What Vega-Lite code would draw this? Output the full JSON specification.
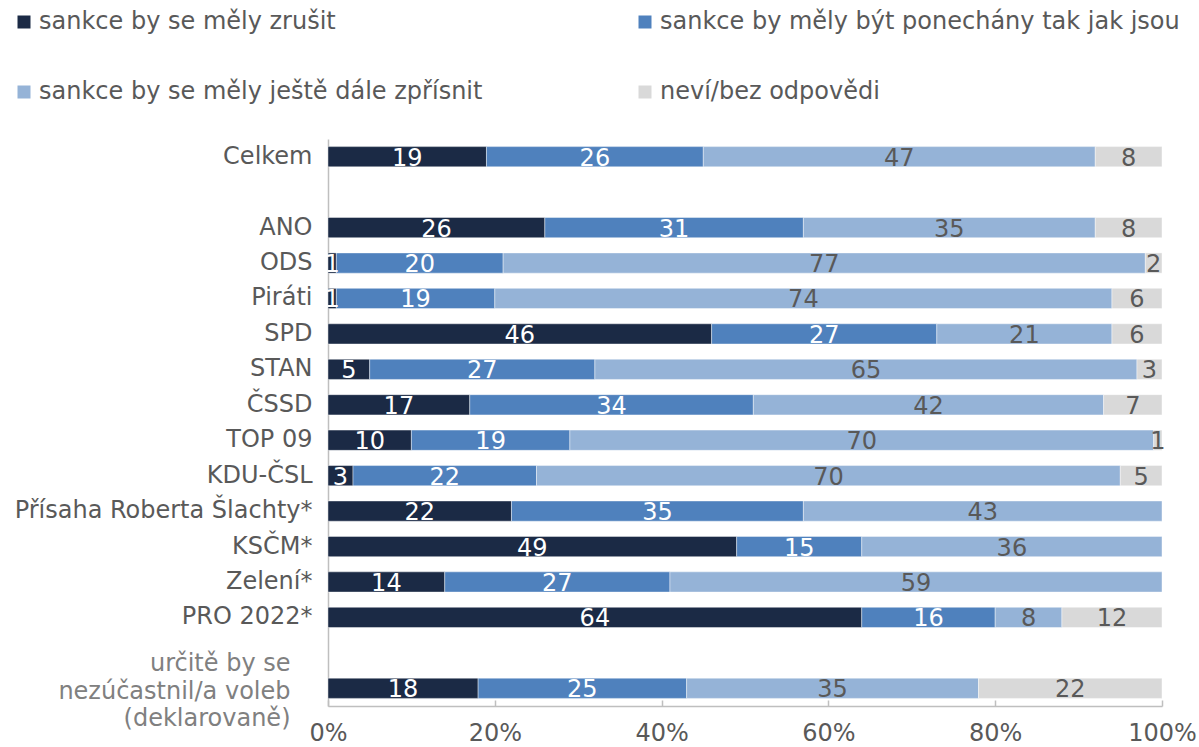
{
  "$schema": "https://vega.github.io/schema/vega-lite/v6.json",
  "width": 834,
  "height": 567,
  "autosize": {"type": "none"},
  "padding": {"left": 328, "top": 139, "right": 37, "bottom": 41},
  "config": {"view": {"stroke": null}, "font": "DejaVu Sans"},
  "data": {
    "values": [
      {"skupina": "Celkem", "odpoved": "sankce by se měly zrušit", "poradi": 1, "hodnota": 19},
      {"skupina": "Celkem", "odpoved": "sankce by měly být ponechány tak jak jsou", "poradi": 2, "hodnota": 26},
      {"skupina": "Celkem", "odpoved": "sankce by se měly ještě dále zpřísnit", "poradi": 3, "hodnota": 47},
      {"skupina": "Celkem", "odpoved": "neví/bez odpovědi", "poradi": 4, "hodnota": 8},
      {"skupina": "ANO", "odpoved": "sankce by se měly zrušit", "poradi": 1, "hodnota": 26},
      {"skupina": "ANO", "odpoved": "sankce by měly být ponechány tak jak jsou", "poradi": 2, "hodnota": 31},
      {"skupina": "ANO", "odpoved": "sankce by se měly ještě dále zpřísnit", "poradi": 3, "hodnota": 35},
      {"skupina": "ANO", "odpoved": "neví/bez odpovědi", "poradi": 4, "hodnota": 8},
      {"skupina": "ODS", "odpoved": "sankce by se měly zrušit", "poradi": 1, "hodnota": 1},
      {"skupina": "ODS", "odpoved": "sankce by měly být ponechány tak jak jsou", "poradi": 2, "hodnota": 20},
      {"skupina": "ODS", "odpoved": "sankce by se měly ještě dále zpřísnit", "poradi": 3, "hodnota": 77},
      {"skupina": "ODS", "odpoved": "neví/bez odpovědi", "poradi": 4, "hodnota": 2},
      {"skupina": "Piráti", "odpoved": "sankce by se měly zrušit", "poradi": 1, "hodnota": 1},
      {"skupina": "Piráti", "odpoved": "sankce by měly být ponechány tak jak jsou", "poradi": 2, "hodnota": 19},
      {"skupina": "Piráti", "odpoved": "sankce by se měly ještě dále zpřísnit", "poradi": 3, "hodnota": 74},
      {"skupina": "Piráti", "odpoved": "neví/bez odpovědi", "poradi": 4, "hodnota": 6},
      {"skupina": "SPD", "odpoved": "sankce by se měly zrušit", "poradi": 1, "hodnota": 46},
      {"skupina": "SPD", "odpoved": "sankce by měly být ponechány tak jak jsou", "poradi": 2, "hodnota": 27},
      {"skupina": "SPD", "odpoved": "sankce by se měly ještě dále zpřísnit", "poradi": 3, "hodnota": 21},
      {"skupina": "SPD", "odpoved": "neví/bez odpovědi", "poradi": 4, "hodnota": 6},
      {"skupina": "STAN", "odpoved": "sankce by se měly zrušit", "poradi": 1, "hodnota": 5},
      {"skupina": "STAN", "odpoved": "sankce by měly být ponechány tak jak jsou", "poradi": 2, "hodnota": 27},
      {"skupina": "STAN", "odpoved": "sankce by se měly ještě dále zpřísnit", "poradi": 3, "hodnota": 65},
      {"skupina": "STAN", "odpoved": "neví/bez odpovědi", "poradi": 4, "hodnota": 3},
      {"skupina": "ČSSD", "odpoved": "sankce by se měly zrušit", "poradi": 1, "hodnota": 17},
      {"skupina": "ČSSD", "odpoved": "sankce by měly být ponechány tak jak jsou", "poradi": 2, "hodnota": 34},
      {"skupina": "ČSSD", "odpoved": "sankce by se měly ještě dále zpřísnit", "poradi": 3, "hodnota": 42},
      {"skupina": "ČSSD", "odpoved": "neví/bez odpovědi", "poradi": 4, "hodnota": 7},
      {"skupina": "TOP 09", "odpoved": "sankce by se měly zrušit", "poradi": 1, "hodnota": 10},
      {"skupina": "TOP 09", "odpoved": "sankce by měly být ponechány tak jak jsou", "poradi": 2, "hodnota": 19},
      {"skupina": "TOP 09", "odpoved": "sankce by se měly ještě dále zpřísnit", "poradi": 3, "hodnota": 70},
      {"skupina": "TOP 09", "odpoved": "neví/bez odpovědi", "poradi": 4, "hodnota": 1},
      {"skupina": "KDU-ČSL", "odpoved": "sankce by se měly zrušit", "poradi": 1, "hodnota": 3},
      {"skupina": "KDU-ČSL", "odpoved": "sankce by měly být ponechány tak jak jsou", "poradi": 2, "hodnota": 22},
      {"skupina": "KDU-ČSL", "odpoved": "sankce by se měly ještě dále zpřísnit", "poradi": 3, "hodnota": 70},
      {"skupina": "KDU-ČSL", "odpoved": "neví/bez odpovědi", "poradi": 4, "hodnota": 5},
      {"skupina": "Přísaha Roberta Šlachty*", "odpoved": "sankce by se měly zrušit", "poradi": 1, "hodnota": 22},
      {"skupina": "Přísaha Roberta Šlachty*", "odpoved": "sankce by měly být ponechány tak jak jsou", "poradi": 2, "hodnota": 35},
      {"skupina": "Přísaha Roberta Šlachty*", "odpoved": "sankce by se měly ještě dále zpřísnit", "poradi": 3, "hodnota": 43},
      {"skupina": "KSČM*", "odpoved": "sankce by se měly zrušit", "poradi": 1, "hodnota": 49},
      {"skupina": "KSČM*", "odpoved": "sankce by měly být ponechány tak jak jsou", "poradi": 2, "hodnota": 15},
      {"skupina": "KSČM*", "odpoved": "sankce by se měly ještě dále zpřísnit", "poradi": 3, "hodnota": 36},
      {"skupina": "Zelení*", "odpoved": "sankce by se měly zrušit", "poradi": 1, "hodnota": 14},
      {"skupina": "Zelení*", "odpoved": "sankce by měly být ponechány tak jak jsou", "poradi": 2, "hodnota": 27},
      {"skupina": "Zelení*", "odpoved": "sankce by se měly ještě dále zpřísnit", "poradi": 3, "hodnota": 59},
      {"skupina": "PRO 2022*", "odpoved": "sankce by se měly zrušit", "poradi": 1, "hodnota": 64},
      {"skupina": "PRO 2022*", "odpoved": "sankce by měly být ponechány tak jak jsou", "poradi": 2, "hodnota": 16},
      {"skupina": "PRO 2022*", "odpoved": "sankce by se měly ještě dále zpřísnit", "poradi": 3, "hodnota": 8},
      {"skupina": "PRO 2022*", "odpoved": "neví/bez odpovědi", "poradi": 4, "hodnota": 12},
      {"skupina": "určitě by se|nezúčastnil/a voleb|(deklarovaně)", "odpoved": "sankce by se měly zrušit", "poradi": 1, "hodnota": 18},
      {"skupina": "určitě by se|nezúčastnil/a voleb|(deklarovaně)", "odpoved": "sankce by měly být ponechány tak jak jsou", "poradi": 2, "hodnota": 25},
      {"skupina": "určitě by se|nezúčastnil/a voleb|(deklarovaně)", "odpoved": "sankce by se měly ještě dále zpřísnit", "poradi": 3, "hodnota": 35},
      {"skupina": "určitě by se|nezúčastnil/a voleb|(deklarovaně)", "odpoved": "neví/bez odpovědi", "poradi": 4, "hodnota": 22}
    ]
  },
  "transform": [
    {"stack": "hodnota", "groupby": ["skupina"], "sort": [{"field": "poradi", "order": "ascending"}], "as": ["x0", "x1"]},
    {"calculate": "(datum.x0 + datum.x1) / 2", "as": "xm"}
  ],
  "encoding": {
    "y": {
      "field": "skupina",
      "type": "nominal",
      "title": null,
      "scale": {
        "domain": ["Celkem", "_1", "ANO", "ODS", "Piráti", "SPD", "STAN", "ČSSD", "TOP 09", "KDU-ČSL", "Přísaha Roberta Šlachty*", "KSČM*", "Zelení*", "PRO 2022*", "_2", "určitě by se|nezúčastnil/a voleb|(deklarovaně)"],
        "paddingInner": 0.43,
        "paddingOuter": 0.215
      },
      "axis": {
        "ticks": false,
        "domainColor": "#bfbfbf",
        "domainWidth": 1.5,
        "labelFontSize": 24,
        "labelPadding": {"condition": {"test": "indexof(datum.value, 'určitě') == 0", "value": 38}, "value": 16},
        "labelLineHeight": 27.5,
        "labelLimit": 400,
        "labelOverlap": false,
        "labelColor": {"condition": {"test": "indexof(datum.value, 'určitě') == 0", "value": "#808080"}, "value": "#595959"},
        "labelOffset": {"condition": {"test": "indexof(datum.value, 'určitě') == 0", "value": -24}, "value": 0},
        "labelExpr": "(datum.value == '_1' || datum.value == '_2') ? '' : split(datum.value, '|')"
      }
    }
  },
  "layer": [
    {
      "mark": {"type": "bar", "stroke": "#ffffff", "strokeWidth": 0.6, "strokeOpacity": 0.7},
      "encoding": {
        "x": {
          "field": "x0",
          "type": "quantitative",
          "title": null,
          "scale": {"domain": [0, 100], "nice": false},
          "axis": {
            "values": [0, 20, 40, 60, 80, 100],
            "labelExpr": "datum.value + '%'",
            "grid": false,
            "tickSize": -6,
            "tickColor": "#bfbfbf",
            "tickWidth": 1.5,
            "domainColor": "#bfbfbf",
            "domainWidth": 1.5,
            "labelFontSize": 24,
            "labelColor": "#595959",
            "labelPadding": 21,
            "labelFlush": false
          }
        },
        "x2": {"field": "x1"},
        "color": {
          "field": "odpoved",
          "type": "nominal",
          "scale": {
            "domain": ["sankce by se měly zrušit", "sankce by se měly ještě dále zpřísnit", "sankce by měly být ponechány tak jak jsou", "neví/bez odpovědi"],
            "range": ["#1b2a45", "#95b3d7", "#4f81bd", "#d9d9d9"]
          },
          "legend": {
            "title": null,
            "orient": "none",
            "legendX": -316,
            "legendY": -129,
            "columns": 2,
            "symbolType": "square",
            "symbolSize": 169,
            "symbolStrokeWidth": 0,
            "labelFontSize": 24,
            "labelColor": "#595959",
            "labelOffset": 3,
            "labelLimit": 600,
            "rowPadding": 46,
            "columnPadding": 150
          }
        }
      }
    },
    {
      "mark": {"type": "text", "fontSize": 24, "baseline": "middle", "dy": 2},
      "encoding": {
        "x": {"field": "xm", "type": "quantitative"},
        "text": {"field": "hodnota", "type": "quantitative"},
        "color": {"condition": {"test": "datum.poradi <= 2", "value": "#ffffff"}, "value": "#595959"}
      }
    }
  ]
}
